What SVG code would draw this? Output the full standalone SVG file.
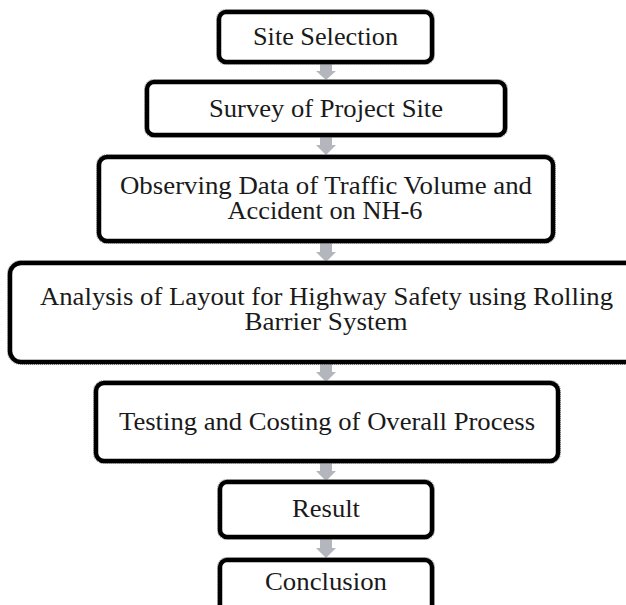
<svg xmlns="http://www.w3.org/2000/svg" width="626" height="605" viewBox="0 0 626 605">
<style>
.box{fill:#fff;stroke:#000;stroke-width:4.5}
.halo{fill:none;stroke:#8a8a8a;stroke-width:1;stroke-dasharray:1 1}
.t{font-family:"Liberation Serif","Times New Roman",serif;font-size:25px;fill:#1a1a1a;text-anchor:middle}
.arr{fill:#b3b7bd}
</style>
<rect width="626" height="605" fill="#fff"/>
<g id="connectors">
<path class="arr" d="M320,63 h12 v8 h4 l-10,9 l-10,-9 h4 z"/>
<path class="arr" d="M320,137 h12 v8 h4 l-10,10 l-10,-10 h4 z"/>
<path class="arr" d="M320,243 h12 v9 h4 l-10,10 l-10,-10 h4 z"/>
<path class="arr" d="M320,364 h12 v8 h4 l-10,10 l-10,-10 h4 z"/>
<path class="arr" d="M320,463 h12 v8 h4 l-10,10 l-10,-10 h4 z"/>
<path class="arr" d="M320,539 h12 v9 h4 l-10,10 l-10,-10 h4 z"/>
</g>
<g id="n1">
<rect class="halo" x="216.5" y="9.5" width="218" height="55" rx="9"/>
<rect class="box" x="219" y="12" width="213" height="50" rx="7"/>
<text class="t" x="325.5" y="45" textLength="145" lengthAdjust="spacingAndGlyphs">Site Selection</text>
</g>
<g id="n2">
<rect class="halo" x="144.5" y="79.5" width="363" height="58" rx="9"/>
<rect class="box" x="147" y="82" width="358" height="53" rx="7"/>
<text class="t" x="326" y="117" textLength="234" lengthAdjust="spacingAndGlyphs">Survey  of Project Site</text>
</g>
<g id="n3">
<rect class="halo" x="96.5" y="154.5" width="459" height="89" rx="10"/>
<rect class="box" x="99" y="157" width="454" height="84" rx="8"/>
<text class="t" x="326" y="194" textLength="412" lengthAdjust="spacingAndGlyphs">Observing Data of Traffic Volume and</text>
<text class="t" x="325" y="219" textLength="195" lengthAdjust="spacingAndGlyphs">Accident  on NH-6</text>
</g>
<g id="n4">
<rect class="halo" x="7.5" y="260.5" width="640" height="104" rx="13"/>
<rect class="box" x="10" y="263" width="635" height="99" rx="11"/>
<text class="t" x="326.5" y="305" textLength="573" lengthAdjust="spacingAndGlyphs">Analysis  of Layout for Highway  Safety using Rolling</text>
<text class="t" x="326" y="330" textLength="163" lengthAdjust="spacingAndGlyphs">Barrier System</text>
</g>
<g id="n5">
<rect class="halo" x="93.5" y="380.5" width="467" height="83" rx="10"/>
<rect class="box" x="96" y="383" width="462" height="78" rx="8"/>
<text class="t" x="327" y="430" textLength="416" lengthAdjust="spacingAndGlyphs">Testing and Costing of Overall Process</text>
</g>
<g id="n6">
<rect class="halo" x="217.5" y="479.5" width="217" height="60" rx="9"/>
<rect class="box" x="220" y="482" width="212" height="55" rx="7"/>
<text class="t" x="326" y="517" textLength="68" lengthAdjust="spacingAndGlyphs">Result</text>
</g>
<g id="n7">
<rect class="halo" x="217.5" y="557.5" width="217" height="65" rx="9"/>
<rect class="box" x="220" y="560" width="212" height="60" rx="7"/>
<text class="t" x="326" y="590" textLength="122" lengthAdjust="spacingAndGlyphs">Conclusion</text>
</g>
</svg>
